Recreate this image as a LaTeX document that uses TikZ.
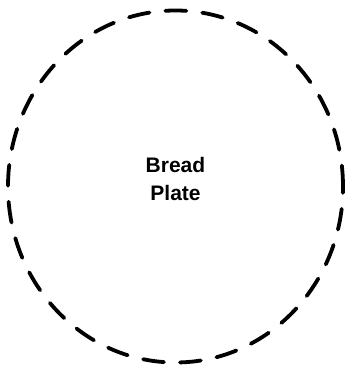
\documentclass[tikz,border=0pt]{standalone}
\usepackage{fontspec}
\setmainfont{Liberation Sans}
\usetikzlibrary{shapes.geometric}

\begin{document}
\begin{tikzpicture}[x=1pt, y=1pt,
    platestyle/.style={ellipse, draw=black, line width=3.8pt, line cap=round,
      dash pattern=on 21pt off 16pt, minimum width=335pt, minimum height=352pt, inner sep=0pt},
    every node/.style={font=\bfseries\fontsize{21}{28}\selectfont, align=center}]
      \useasboundingbox (0,0) rectangle (349,371);
      % Nodes
      \node (plate) at (175.5, 184.5) [platestyle] {};
      \node (name) at (175.5, 192) {Bread\\Plate};
    \end{tikzpicture}
\end{document}
